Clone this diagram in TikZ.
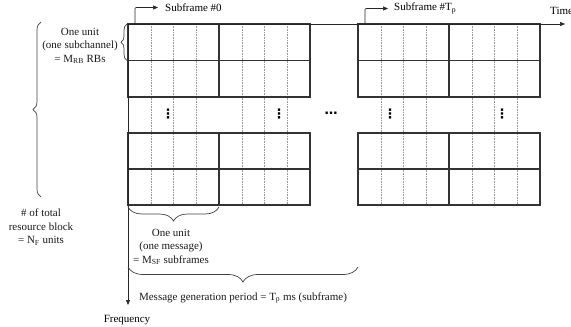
\documentclass[tikz,border=0pt]{standalone}
\usepackage{fontspec}
\setmainfont{Liberation Serif}
\newfontfamily\dotsfont{DejaVu Sans}
\usetikzlibrary{arrows.meta,decorations.pathreplacing}
\begin{document}
\begin{tikzpicture}[x=1pt,y=-1pt,
  font=\fontsize{11}{13.5}\selectfont,
  cellline/.style={line width=1.1pt, draw=black!80},
  slotline/.style={line width=0.5pt, draw=black!40, dash pattern=on 0.8pt off 0.8pt},
  axis/.style={line width=0.7pt, draw=black!85, -{Triangle[length=5pt,width=4pt]}},
  marker/.style={line width=0.7pt, draw=black!85, rounded corners=1pt, -{Triangle[length=5pt,width=4pt]}},
  curly/.style={decorate, decoration={brace, amplitude=#1}, line width=0.7pt, draw=black!75},
  lbl/.style={align=center, inner sep=0pt, text=black!90},
  ellip/.style={inner sep=0pt, font=\fontsize{13}{15}\dotsfont\bfseries}
]
\useasboundingbox (0,0) rectangle (571,327);

% resource grid: two groups of subframes, each two messages wide
\foreach \x in {128,358}{
  % subframe slot lines, running through the elided rows too
  \foreach \k in {1,2,3,5,6,7}
    \draw[slotline] (\x+\k*22.75,24) -- (\x+\k*22.75,205);
  % subchannel rows
  \foreach \ya/\yb in {24/60.5,60.5/97,133/169,169/205}{
    \draw[cellline] (\x,\ya) rectangle (\x+91,\yb);
    \draw[cellline] (\x+91,\ya) rectangle (\x+182,\yb);
  }
}

% elided rows and subframes
\foreach \x in {168,279,390,502}
  \node[ellip] (vd\x) at (\x,114) {⋮};
\node[ellip] (hdots) at (331,113) {…};

% axes
\coordinate (origin) at (128,24);
\coordinate (timeend) at (565,24);
\coordinate (freqend) at (128,305);
\draw[axis] (origin) -- (timeend);
\draw[axis] (origin) -- (freqend);
\node[anchor=west, inner sep=0pt] (time) at (550,11) {Time};
\node[inner sep=0pt] (freq) at (127,320) {Frequency};

% subframe markers
\coordinate (sf0) at (135,24);
\coordinate (sfp) at (365,24);
\node[anchor=west, inner sep=0pt] (sf0lbl) at (165,8) {Subframe \#0};
\node[anchor=west, inner sep=0pt] (sfplbl) at (394,8.5) {Subframe \#T\textsubscript{p}};
\draw[marker] (sf0) |- ([xshift=-7pt,yshift=0.5pt]sf0lbl.west);
\draw[marker] (sfp) |- ([xshift=-6pt]sfplbl.west);

% braces
\coordinate (rowtop) at (127,24);
\coordinate (rowbot) at (127,60.5);
\coordinate (alltop) at (41,22);
\coordinate (allbot) at (41,197);
\coordinate (msgl) at (128,207);
\coordinate (msgr) at (219,207);
\coordinate (perl) at (128,267);
\coordinate (perr) at (358,267);
\draw[curly=8pt] (allbot) -- (alltop);
\draw[curly=6pt] (rowbot) -- (rowtop);
\draw[curly=14pt] (msgr) -- (msgl);
\draw[curly=15pt] (perr) -- (perl);

% labels
\node[lbl] (unitrb) at (80,46) {One unit\\(one subchannel)\\= M\textsubscript{RB} RBs};
\node[lbl] (total) at (41,227) {\# of total\\resource block\\= N\textsubscript{F} units};
\node[lbl] (unitmsg) at (171,247) {One unit\\(one message)\\= M\textsubscript{SF} subframes};
\node[lbl] (period) at (243,298) {Message generation period = T\textsubscript{p} ms (subframe)};
\end{tikzpicture}
\end{document}
